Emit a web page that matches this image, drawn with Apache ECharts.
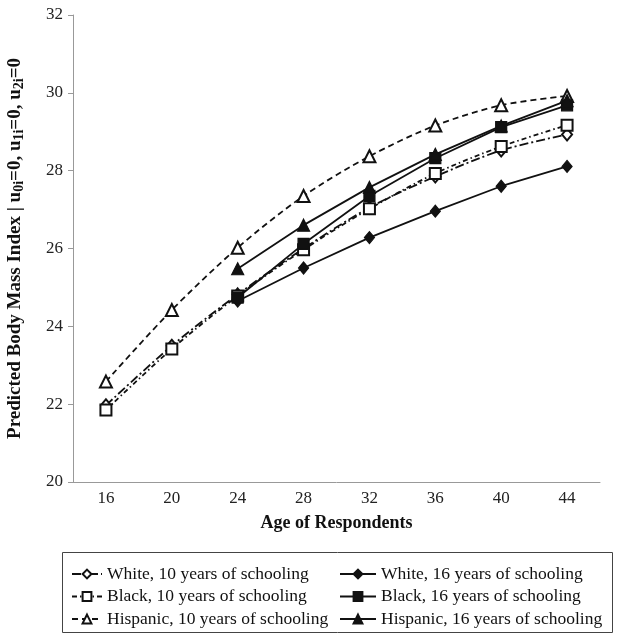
<!DOCTYPE html>
<html>
<head>
<meta charset="utf-8">
<script src="https://cdn.jsdelivr.net/npm/echarts@6/dist/echarts.min.js"></script>
<style>
html, body { margin: 0; padding: 0; background: #fff; }
#main { width: 618px; height: 641px; }
</style>
</head>
<body>
<div id="main"></div>
<script>
var ages = ['16', '20', '24', '28', '32', '36', '40', '44'];
var white10 = [21.97, 23.5, 24.82, 26.0, 27.05, 27.85, 28.52, 28.93];
var white16 = [null, null, 24.65, 25.5, 26.28, 26.96, 27.6, 28.11];
var black10 = [21.85, 23.42, 24.78, 25.97, 27.02, 27.93, 28.62, 29.17];
var black16 = [null, null, 24.74, 26.12, 27.35, 28.32, 29.12, 29.68];
var hisp10 = [22.58, 24.42, 26.02, 27.35, 28.37, 29.16, 29.68, 29.92];
var hisp16 = [null, null, 25.48, 26.6, 27.57, 28.42, 29.15, 29.8];
var yTicks = { min: 20, max: 32, interval: 2 };

var myChart = echarts.init(document.getElementById('main'));
var font = '"Liberation Serif", "DejaVu Serif", serif';

function line(name, data, symbol, dash, smooth, size) {
    return {
        name: name,
        type: 'line',
        data: data,
        symbol: symbol,
        symbolSize: size,
        smooth: smooth,
        connectNulls: false,
        itemStyle: { color: '#111', borderColor: '#111', borderWidth: 1.2 },
        lineStyle: { color: '#111', width: 1.8, type: dash },
        emphasis: { disabled: true },
        animation: false
    };
}

var legendText = { fontFamily: font, fontSize: 17.5, color: '#111', lineHeight: 18 };

var option = {
    backgroundColor: '#fff',
    grid: { left: 73, right: 18, top: 15, bottom: 159, containLabel: false, outerBoundsMode: 'none' },
    xAxis: {
        type: 'category',
        data: ages,
        boundaryGap: true,
        axisLine: { lineStyle: { color: '#999', width: 1 } },
        axisTick: { show: false },
        axisLabel: { fontFamily: font, fontSize: 17, color: '#222', margin: 8 },
        name: 'Age of Respondents',
        nameLocation: 'middle',
        nameGap: 32,
        nameTextStyle: { fontFamily: font, fontSize: 18, fontWeight: 'bold', color: '#111' }
    },
    yAxis: {
        type: 'value',
        min: yTicks.min,
        max: yTicks.max,
        interval: yTicks.interval,
        splitLine: { show: false },
        axisLine: { show: true, lineStyle: { color: '#999', width: 1 } },
        axisTick: { show: true, length: 5, lineStyle: { color: '#999' } },
        axisLabel: { fontFamily: font, fontSize: 17, color: '#222', margin: 10 },
        name: '{a|Predicted Body Mass Index | u}{s|0i}{a|=0, u}{s|1i}{a|=0, u}{s|2i}{a|=0}',
        nameLocation: 'middle',
        nameGap: 47,
        nameTextStyle: {
            rich: {
                a: { fontFamily: font, fontSize: 19, fontWeight: 'bold', color: '#111', lineHeight: 22 },
                s: { fontFamily: font, fontSize: 14, fontWeight: 'bold', color: '#111', verticalAlign: 'bottom', lineHeight: 22, padding: [7, 0, 0, 0] }
            }
        }
    },
    legend: [{
        data: ['White, 10 years of schooling', 'Black, 10 years of schooling', 'Hispanic, 10 years of schooling'],
        orient: 'vertical',
        left: 66,
        top: 560,
        itemWidth: 30,
        itemHeight: 11,
        itemGap: 4.5,
        textStyle: legendText,
        selectedMode: false
    }, {
        data: ['White, 16 years of schooling', 'Black, 16 years of schooling', 'Hispanic, 16 years of schooling'],
        orient: 'vertical',
        left: 334,
        top: 560,
        itemWidth: 36,
        itemHeight: 11,
        itemGap: 4.5,
        textStyle: legendText,
        selectedMode: false
    }],
    graphic: [{
        type: 'rect',
        shape: { x: 62.5, y: 552.5, width: 550, height: 80 },
        style: { fill: 'none', stroke: '#444', lineWidth: 1 },
        silent: true
    }],
    series: [
        line('White, 10 years of schooling', white10, 'emptyDiamond', [9, 3, 2, 3], 0.3, [10, 12]),
        line('Black, 10 years of schooling', black10, 'emptyRect', [5, 3, 1.5, 3], 0.3, 11),
        line('Hispanic, 10 years of schooling', hisp10, 'emptyTriangle', [6, 4], 0.3, 12),
        line('White, 16 years of schooling', white16, 'diamond', 'solid', false, [10, 12]),
        line('Black, 16 years of schooling', black16, 'rect', 'solid', false, 11),
        line('Hispanic, 16 years of schooling', hisp16, 'triangle', 'solid', false, 12)
    ]
};

if (option && typeof option === 'object') {
    myChart.setOption(option, true);
}
</script>
</body>
</html>
